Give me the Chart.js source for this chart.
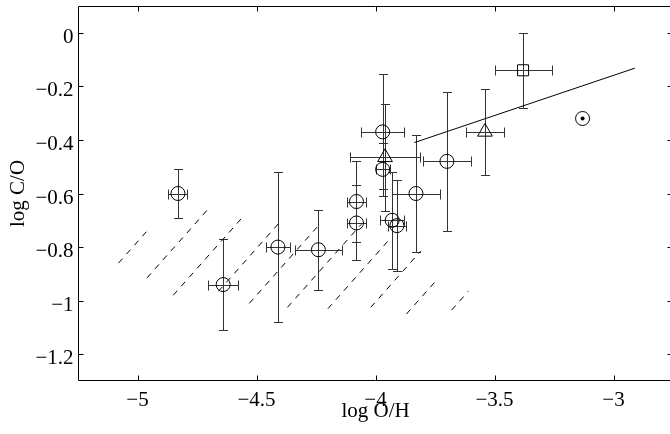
<!DOCTYPE html>
<html>
<head>
<meta charset="utf-8">
<script src="https://cdn.jsdelivr.net/npm/chart.js@4.4.0/dist/chart.umd.min.js"></script>
<style>
  html, body { margin: 0; padding: 0; background: #fff; overflow: hidden; }
  #wrap { width: 670px; height: 434px; overflow: hidden; }
</style>
</head>
<body>
<div id="wrap"><canvas id="chart" width="676" height="434"></canvas></div>
<script>
// circles: log O/H, log C/O and their errors
const circleX  = [-4.83, -4.64, -4.41, -4.24, -4.08, -4.08, -3.97, -3.97, -3.93, -3.91, -3.83, -3.70];
const circleY  = [-0.60, -0.94, -0.80, -0.81, -0.63, -0.71, -0.37, -0.51, -0.70, -0.72, -0.60, -0.48];
const circleEx = [0.04, 0.062, 0.05, 0.10, 0.04, 0.04, 0.09, 0.03, 0.05, 0.037, 0.10, 0.10];
const circleEy = [0.09, 0.17, 0.28, 0.15, 0.15, 0.14, 0.215, 0.10, 0.18, 0.17, 0.22, 0.26];

// triangles
const triX  = [-3.96, -3.54];
const triY  = [-0.465, -0.37];
const triEx = [0.148, 0.08];
const triEy = [0.20, 0.16];

// square
const sqX  = [-3.38];
const sqY  = [-0.14];
const sqEx = [0.12];
const sqEy = [0.14];

// sun
const sunX = [-3.13];
const sunY = [-0.32];

// solid line
const lineX = [-3.837, -2.91];
const lineY = [-0.41, -0.132];

// dashed hatching segments (start / end)
const hatchX0 = [-5.08, -4.96, -4.85, -4.66, -4.53, -4.37, -4.20, -4.02, -3.87, -3.68];
const hatchY0 = [-0.86, -0.915, -0.98, -0.965, -1.01, -1.025, -1.03, -1.025, -1.05, -1.035];
const hatchX1 = [-4.96, -4.70, -4.55, -4.40, -4.24, -4.06, -3.94, -3.81, -3.75, -3.61];
const hatchY1 = [-0.74, -0.655, -0.68, -0.705, -0.72, -0.715, -0.77, -0.815, -0.93, -0.965];

const xTicks = [-5, -4.5, -4, -3.5, -3];
const yTicks = [0, -0.2, -0.4, -0.6, -0.8, -1, -1.2];

const serif = '"Liberation Serif", "Times New Roman", serif';
const minus = v => String(v).replace('-', '\u2212');

const errGroups = [
    { x: circleX, y: circleY, ex: circleEx, ey: circleEy },
    { x: triX, y: triY, ex: triEx, ey: triEy },
    { x: sqX, y: sqY, ex: sqEx, ey: sqEy }
];

function seg(ctx, x0, y0, x1, y1) {
    ctx.moveTo(x0, y0);
    ctx.lineTo(x1, y1);
}

const errorBars = {
    id: 'errorBars',
    beforeDatasetsDraw(chart) {
        const xs = chart.scales.x, ys = chart.scales.y;
        const ctx = chart.ctx;
        const a = chart.chartArea;
        ctx.save();
        ctx.beginPath();
        ctx.rect(a.left, a.top, a.right - a.left, a.bottom - a.top);
        ctx.clip();
        ctx.strokeStyle = '#333';
        ctx.lineWidth = 1;
        ctx.beginPath();
        errGroups.forEach(g => {
            g.x.forEach((xv, i) => {
                const px = Math.round(xs.getPixelForValue(xv)) + 0.5;
                const py = Math.round(ys.getPixelForValue(g.y[i])) + 0.5;
                const y0 = Math.round(ys.getPixelForValue(g.y[i] + g.ey[i])) + 0.5;
                const y1 = Math.round(ys.getPixelForValue(g.y[i] - g.ey[i])) + 0.5;
                seg(ctx, px, y0, px, y1);
                seg(ctx, px - 4.5, y0, px + 4.5, y0);
                seg(ctx, px - 4.5, y1, px + 4.5, y1);
                const x0 = Math.round(xs.getPixelForValue(xv - g.ex[i])) + 0.5;
                const x1 = Math.round(xs.getPixelForValue(xv + g.ex[i])) + 0.5;
                seg(ctx, x0, py, x1, py);
                seg(ctx, x0, py - 5, x0, py + 5);
                seg(ctx, x1, py - 5, x1, py + 5);
            });
        });
        ctx.stroke();
        ctx.restore();
    }
};

// box, inward ticks, tick labels and axis titles
const frame = {
    id: 'frame',
    afterDraw(chart) {
        const xs = chart.scales.x, ys = chart.scales.y;
        const ctx = chart.ctx;
        const a = chart.chartArea;
        const L = Math.round(a.left) + 0.5, R = Math.round(a.right) - 0.5;
        const T = Math.round(a.top) + 0.5, B = Math.round(a.bottom) - 0.5;
        ctx.save();
        ctx.strokeStyle = '#000';
        ctx.lineWidth = 1;
        ctx.beginPath();
        ctx.rect(L, T, R - L, B - T);
        xTicks.forEach(v => {
            const px = Math.round(xs.getPixelForValue(v)) + 0.5;
            seg(ctx, px, B, px, B - 5);
            seg(ctx, px, T, px, T + 5);
        });
        yTicks.forEach(v => {
            const py = Math.round(ys.getPixelForValue(v)) + 0.5;
            seg(ctx, L, py, L + 5, py);
            seg(ctx, R, py, R - 5, py);
        });
        ctx.stroke();

        ctx.fillStyle = '#000';
        ctx.font = '21px ' + serif;
        ctx.textBaseline = 'alphabetic';
        ctx.textAlign = 'center';
        xTicks.forEach(v => {
            ctx.fillText(minus(v), xs.getPixelForValue(v), a.bottom + 25);
        });
        ctx.textAlign = 'right';
        yTicks.forEach(v => {
            ctx.fillText(minus(v), a.left - 4.5, ys.getPixelForValue(v) + 10);
        });

        ctx.textAlign = 'center';
        ctx.fillText('log O/H', (a.left + a.right) / 2, a.bottom + 36);
        ctx.translate(24, (a.top + a.bottom) / 2);
        ctx.rotate(-Math.PI / 2);
        ctx.fillText('log C/O', 0, 0);
        ctx.restore();
    }
};

const datasets = [];

hatchX0.forEach((x0, i) => {
    datasets.push({
        type: 'line',
        data: [{ x: x0, y: hatchY0[i] }, { x: hatchX1[i], y: hatchY1[i] }],
        borderColor: '#000',
        borderWidth: 1,
        borderDash: [6, 6],
        pointRadius: 0,
        fill: false
    });
});

datasets.push({
    type: 'line',
    data: lineX.map((x, i) => ({ x, y: lineY[i] })),
    borderColor: '#000',
    borderWidth: 1,
    pointRadius: 0,
    fill: false
});

datasets.push({
    data: circleX.map((x, i) => ({ x, y: circleY[i] })),
    pointStyle: 'circle',
    pointRadius: 7,
    borderColor: '#000',
    borderWidth: 1,
    backgroundColor: 'rgba(0,0,0,0)'
});

datasets.push({
    data: triX.map((x, i) => ({ x, y: triY[i] })),
    pointStyle: 'triangle',
    pointRadius: 8.5,
    borderColor: '#000',
    borderWidth: 1,
    backgroundColor: 'rgba(0,0,0,0)'
});

datasets.push({
    data: sqX.map((x, i) => ({ x, y: sqY[i] })),
    pointStyle: 'rect',
    pointRadius: 7.8,
    borderColor: '#000',
    borderWidth: 1,
    backgroundColor: 'rgba(0,0,0,0)'
});

datasets.push({
    data: sunX.map((x, i) => ({ x, y: sunY[i] })),
    pointStyle: 'circle',
    pointRadius: 7,
    borderColor: '#000',
    borderWidth: 1,
    backgroundColor: 'rgba(0,0,0,0)'
});

datasets.push({
    data: sunX.map((x, i) => ({ x, y: sunY[i] })),
    pointStyle: 'circle',
    pointRadius: 2,
    borderColor: '#000',
    borderWidth: 0,
    backgroundColor: '#000'
});

new Chart(document.getElementById('chart'), {
    type: 'scatter',
    data: { datasets },
    options: {
        responsive: false,
        animation: false,
        events: [],
        layout: { autoPadding: false, padding: { top: 6, right: 3, left: 78, bottom: 53 } },
        plugins: { legend: { display: false }, tooltip: { enabled: false } },
        scales: {
            x: { type: 'linear', min: -5.25, max: -2.75, display: false },
            y: { type: 'linear', min: -1.3, max: 0.1, display: false }
        }
    },
    plugins: [errorBars, frame]
});
</script>
</body>
</html>
